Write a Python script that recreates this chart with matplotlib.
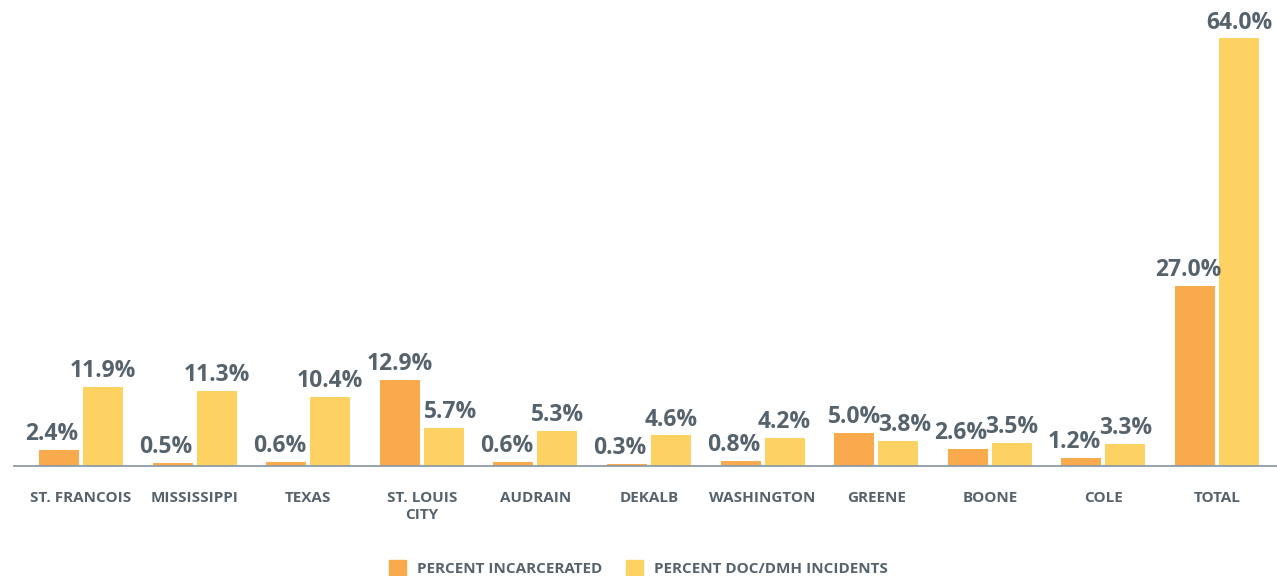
import matplotlib
matplotlib.use("Agg")
import matplotlib.pyplot as plt
from matplotlib.patches import Patch
import numpy as np

categories = ["ST. FRANCOIS", "MISSISSIPPI", "TEXAS", "ST. LOUIS\nCITY", "AUDRAIN",
              "DEKALB", "WASHINGTON", "GREENE", "BOONE", "COLE", "TOTAL"]
incarcerated = [2.4, 0.5, 0.6, 12.9, 0.6, 0.3, 0.8, 5.0, 2.6, 1.2, 27.0]
incidents = [11.9, 11.3, 10.4, 5.7, 5.3, 4.6, 4.2, 3.8, 3.5, 3.3, 64.0]
series_names = ["PERCENT INCARCERATED", "PERCENT DOC/DMH INCIDENTS"]

ORANGE = "#F9AA4C"
YELLOW = "#FDD262"
TEXT = "#56636D"
AXIS = "#8E9BA6"

plt.rcParams['font.family'] = ['Open Sans', 'DejaVu Sans']

W, H = 1277, 576
fig = plt.figure(figsize=(W / 100, H / 100), dpi=100)
ax = fig.add_axes([14 / W, 110 / H, 1 - 14 / W, 1 - 110 / H])

x = np.arange(len(categories))
bw = 0.352
off = 0.1937
ax.bar(x - off, incarcerated, width=bw, color=ORANGE, label=series_names[0])
ax.bar(x + off, incidents, width=bw, color=YELLOW, label=series_names[1])

ax.set_xlim(-0.59, 10.528)
ax.set_ylim(0, 69.76)

for s in ["top", "right", "left"]:
    ax.spines[s].set_visible(False)
ax.spines["bottom"].set_color(AXIS)
ax.spines["bottom"].set_linewidth(1.3)
ax.set_yticks([])
ax.set_xticks(x)
ax.set_xticklabels(categories, color=TEXT, fontsize=11, fontweight="bold",
                   linespacing=1.3)
ax.tick_params(axis="x", length=0, pad=18)

shift = 5  # points
for i in range(len(categories)):
    a, b = incarcerated[i], incidents[i]
    da = -shift if a < b else 0
    db = shift if b < a else 0
    ax.annotate(f"{a:.1f}%", (x[i] - off, a), xytext=(da, 7), textcoords="offset points",
                ha="center", va="baseline", color=TEXT, fontsize=16.5, fontweight="bold")
    ax.annotate(f"{b:.1f}%", (x[i] + off, b), xytext=(db, 7), textcoords="offset points",
                ha="center", va="baseline", color=TEXT, fontsize=16.5, fontweight="bold")

handles = [Patch(color=ORANGE), Patch(color=YELLOW)]
fig.legend(handles, series_names, loc="lower center", bbox_to_anchor=(0.5, -0.025), ncol=2,
           frameon=False, labelcolor=TEXT, handlelength=1.1, handleheight=1.3,
           handletextpad=0.7, columnspacing=1.6, prop={"weight": "bold", "size": 11})

fig.savefig("out.png", dpi=100)
